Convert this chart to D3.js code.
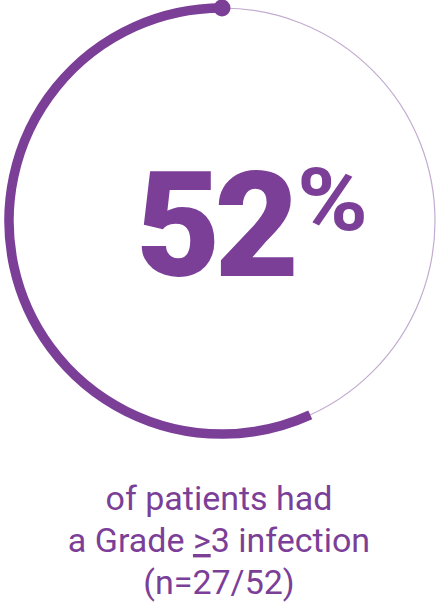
<!DOCTYPE html>
<html>
<head>
<meta charset="utf-8">
<script src="https://cdn.jsdelivr.net/npm/d3@7"></script>
<style>
  html, body { margin: 0; padding: 0; background: #fff; }
  svg { display: block; }
</style>
</head>
<body>
<svg id="ring" width="440" height="604"></svg>
<script>
(function () {
    var width = 440, height = 604

    // values
    var percentLabel = [52]            // big number
    var ringShare = [0.568]            // how far the thick arc runs (as drawn)
    var captionLines = ["of patients had", "a Grade |>|3 infection", "(n=27/52)"]

    var purple = "#7b3f98", lightPurple = "#c3acd0"
    var cx = 222, cy = 221, r = 213

    var svg = d3.select("#ring")

    //angle scale: share of ring -> radians, going counter-clockwise from top
    var angle = d3.scaleLinear().domain([0, 1]).range([0, -2 * Math.PI])

    var g = svg.append("g").attr("transform", "translate(" + cx + "," + cy + ")")

    //thin full circle
    g.append("circle")
        .attr("r", r)
        .attr("fill", "none")
        .attr("stroke", lightPurple)
        .attr("stroke-width", 1.2)

    //thick arc
    var arc = d3.arc()
        .innerRadius(r)
        .outerRadius(r)
        .startAngle(0)
        .endAngle(d => angle(d))

    g.selectAll("path.fill")
        .data(ringShare)
        .join("path")
        .attr("class", "fill")
        .attr("d", d => arc(d))
        .attr("fill", "none")
        .attr("stroke", purple)
        .attr("stroke-width", 9.5)
        .attr("stroke-linecap", "round")

    //dot at the start
    g.append("circle")
        .attr("cx", Math.sin(angle(0)) * r)
        .attr("cy", -Math.cos(angle(0)) * r)
        .attr("r", 8.5)
        .attr("fill", purple)

    //big number
    svg.selectAll("text.big")
        .data(percentLabel)
        .join("text")
        .attr("class", "big")
        .attr("x", 136)
        .attr("y", 276)
        .attr("fill", purple)
        .attr("font-family", "Roboto")
        .attr("font-size", 146)
        .attr("font-weight", 900)
        .attr("letter-spacing", -6)
        .text(d => d)

    svg.append("text")
        .attr("x", 297)
        .attr("y", 230)
        .attr("fill", purple)
        .attr("font-family", "Roboto")
        .attr("font-size", 88)
        .attr("font-weight", 700)
        .attr("textLength", 71)
        .attr("lengthAdjust", "spacingAndGlyphs")
        .text("%")

    //caption
    var caption = svg.append("g")
        .attr("font-family", "Roboto")
        .attr("font-size", 34)
        .attr("fill", purple)
        .attr("text-anchor", "middle")

    caption.selectAll("text")
        .data(captionLines)
        .join("text")
        .attr("x", 219)
        .attr("y", (d, i) => 510 + i * 42)
        .each(function (d) {
            var parts = d.split("|")
            var t = d3.select(this)
            parts.forEach(function (p, j) {
                var s = t.append("tspan").text(p)
                if (j % 2 == 1) s.style("text-decoration", "underline")
            })
        })
})
    ();
</script>
</body>
</html>
